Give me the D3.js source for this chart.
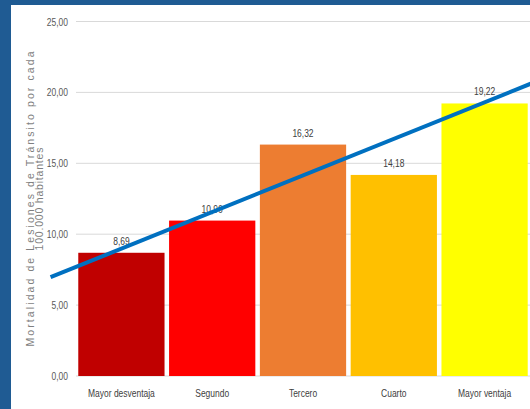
<!DOCTYPE html>
<html>
<head>
<meta charset="utf-8">
<script src="https://cdn.jsdelivr.net/npm/d3@7/dist/d3.min.js"></script>
<style>
  html, body { margin: 0; padding: 0; background: #1f5b93; }
  svg { display: block; }
</style>
</head>
<body>
<svg id="chart" width="530" height="409"></svg>
<script>
// Mortality by quintile
const categories = ["Mayor desventaja", "Segundo", "Tercero", "Cuarto", "Mayor ventaja"];
const values = [8.69, 10.96, 16.32, 14.18, 19.22];
const barColors = ["#c00000", "#ff0000", "#ed7d31", "#ffc000", "#ffff00"];
const yTicks = [0, 5, 10, 15, 20, 25];
// trend line endpoints (category position, value)
const trendPos = [0.22, 5.6];
const trendVal = [6.97, 20.85];
const yTitle = ["Mortalidad de Lesiones de Tránsito por cada", "100.000 habitantes"];

const W = 530, H = 409;
const svg = d3.select("#chart");
const NARROW = 0.77; // horizontal squeeze for condensed labels

// white panel
svg.append("rect").attr("x", 11).attr("y", 5).attr("width", W - 11).attr("height", H - 5).attr("fill", "#ffffff");

const plotLeft = 76, plotRight = 530, plotTop = 21.5, plotBottom = 376;

const x = d3.scaleBand().domain(categories).range([plotLeft, plotRight])
  .paddingInner(0.05).paddingOuter(0.025);
const y = d3.scaleLinear().domain([0, 25]).range([plotBottom, plotTop]);
const fmt = v => d3.format(".2f")(v).replace(".", ",");

// condensed label helper: positioned group, squeezed text
function narrowText(sel, px, py, anchor, color) {
  const g = sel.append("g").attr("transform", (d, i) => `translate(${px(d, i)},${py(d, i)}) scale(${NARROW},1)`);
  return g.append("text")
    .attr("text-anchor", anchor)
    .attr("font-family", "'Liberation Sans', Arial, sans-serif")
    .attr("font-size", 11).attr("fill", color);
}

// gridlines
svg.append("g").selectAll("line").data(yTicks).join("line")
  .attr("x1", plotLeft).attr("x2", W)
  .attr("y1", d => y(d)).attr("y2", d => y(d))
  .attr("stroke", "#d9d9d9").attr("stroke-width", 1);

// y tick labels
narrowText(svg.append("g").selectAll("g").data(yTicks).enter(), () => 68, d => y(d) + 4, "end", "#595959")
  .text(fmt);

// bars
svg.append("g").selectAll("rect").data(values).join("rect")
  .attr("x", (d, i) => x(categories[i]))
  .attr("width", x.bandwidth())
  .attr("y", d => y(d))
  .attr("height", d => y(0) - y(d))
  .attr("fill", (d, i) => barColors[i]);

// value labels
narrowText(svg.append("g").selectAll("g").data(values).enter(),
  (d, i) => x(categories[i]) + x.bandwidth() / 2, d => y(d) - 8, "middle", "#404040")
  .text(fmt);

// category labels
narrowText(svg.append("g").selectAll("g").data(categories).enter(),
  d => x(d) + x.bandwidth() / 2, () => 397, "middle", "#404040")
  .text(d => d);

// trend line over category positions (1 = first category centre)
const xc = d3.scaleLinear().domain([1, 2])
  .range([x(categories[0]) + x.bandwidth() / 2, x(categories[1]) + x.bandwidth() / 2]);
svg.append("path")
  .datum(trendPos.map((p, i) => [p, trendVal[i]]))
  .attr("d", d3.line().x(d => xc(d[0])).y(d => y(d[1])))
  .attr("fill", "none").attr("stroke", "#0070c0").attr("stroke-width", 4);

// y axis title
const titleCy = 199;
const tg = svg.append("g").attr("transform", `translate(0,${titleCy}) rotate(-90)`);
tg.append("text").attr("x", 0).attr("y", 34)
  .attr("text-anchor", "middle")
  .attr("font-family", "'Liberation Sans', Arial, sans-serif")
  .attr("font-size", 10.5).attr("fill", "#7f7f7f")
  .attr("textLength", 295).attr("lengthAdjust", "spacing")
  .text(yTitle[0]);
tg.append("text").attr("x", 0).attr("y", 42.5)
  .attr("text-anchor", "middle")
  .attr("font-family", "'Liberation Sans', Arial, sans-serif")
  .attr("font-size", 10.5).attr("fill", "#7f7f7f")
  .attr("textLength", 103).attr("lengthAdjust", "spacing")
  .text(yTitle[1]);
</script>
</body>
</html>
